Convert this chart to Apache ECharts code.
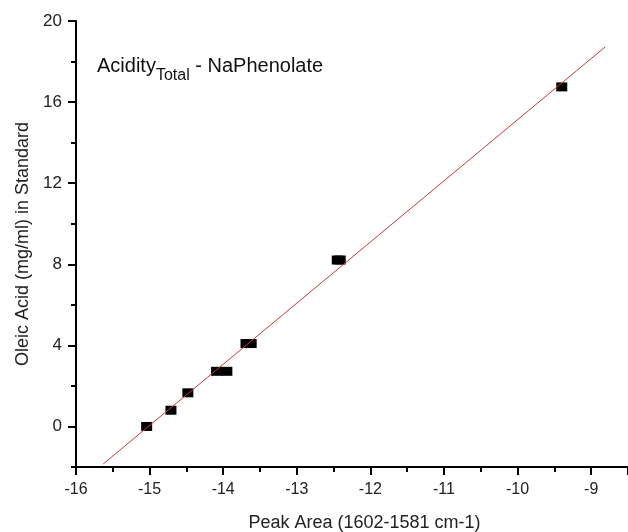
<!DOCTYPE html>
<html>
<head>
<meta charset="utf-8">
<script src="https://cdn.jsdelivr.net/npm/echarts@6/dist/echarts.min.js"></script>
<style>html,body{margin:0;padding:0;background:#fff;}#c{width:628px;height:532px;}</style>
</head>
<body>
<div id="c"></div>
<script>
// Measured standards: peak area (x) vs oleic acid concentration (y)
var peakArea = [-15.04, -14.71, -14.48, -14.09, -13.95, -13.69, -13.62, -12.45, -12.41, -9.40];
var oleicAcid = [0.0, 0.80, 1.66, 2.72, 2.72, 4.09, 4.09, 8.21, 8.21, 16.75];
// Linear fit line endpoints
var fitX = [-15.63, -8.81];
var fitY = [-1.85, 18.72];
// Axis settings
var xTicks = { min: -16, max: -8.5, interval: 1 };
var yRange = { min: -2, max: 20, minorInterval: 2 };
var yTickLabels = [0, 4, 8, 12, 16, 20];

var FONT = 'Liberation Sans, Arial, sans-serif';
var chart = echarts.init(document.getElementById('c'), null, { renderer: 'canvas' });

var pts = peakArea.map(function (x, i) { return [x, oleicAcid[i]]; });
var fit = fitX.map(function (x, i) { return [x, fitY[i]]; });

var lineStyleAxis = { color: '#000', width: 2 };
var labelStyle = { color: '#222', fontSize: 16, fontFamily: FONT };

chart.setOption({
  animation: false,
  backgroundColor: '#fff',
  grid: { left: 76, right: 0, top: 21, bottom: 65, containLabel: false, outerBoundsMode: 'none' },
  xAxis: {
    type: 'value',
    min: xTicks.min, max: xTicks.max, interval: xTicks.interval,
    axisLine: { show: true, onZero: false, lineStyle: lineStyleAxis },
    axisTick: { show: true, length: 8, lineStyle: lineStyleAxis },
    minorTick: { show: true, splitNumber: 2, length: 5, lineStyle: lineStyleAxis },
    splitLine: { show: false },
    name: 'Peak Area (1602-1581 cm-1)',
    nameLocation: 'middle', nameGap: 47,
    nameTextStyle: { color: '#222', fontSize: 18, fontFamily: FONT, padding: [0, 0, 0, 25] },
    axisLabel: Object.assign({}, labelStyle, {
      margin: 15,
      formatter: function (v) { return (v === xTicks.max) ? '' : String(v); }
    })
  },
  yAxis: [
    {
      type: 'value',
      min: yRange.min, max: yRange.max, interval: yRange.minorInterval,
      axisLine: { show: true, onZero: false, lineStyle: lineStyleAxis },
      axisTick: { show: true, length: 8, lineStyle: lineStyleAxis, customValues: yTickLabels },
      splitLine: { show: false },
      name: 'Oleic Acid (mg/ml) in Standard',
      nameLocation: 'middle', nameGap: 44, nameRotate: 90,
      nameTextStyle: { color: '#222', fontSize: 18, fontFamily: FONT },
      axisLabel: Object.assign({}, labelStyle, { fontSize: 17, margin: 14, customValues: yTickLabels })
    },
    {
      type: 'value',
      position: 'left',
      min: yRange.min, max: yRange.max, interval: yRange.minorInterval,
      axisLine: { show: false, onZero: false },
      axisTick: { show: true, length: 5, lineStyle: lineStyleAxis },
      axisLabel: { show: false },
      splitLine: { show: false }
    }
  ],
  graphic: [{
    type: 'text',
    left: 97, top: 56,
    style: {
      text: '{m|Acidity}{s|Total}{m| - NaPhenolate}',
      rich: {
        m: { fontSize: 20, fontFamily: FONT, fill: '#111', verticalAlign: 'bottom', lineHeight: 22 },
        s: { fontSize: 16, fontFamily: FONT, fill: '#111', verticalAlign: 'bottom', lineHeight: 22, padding: [0, 0, -8, 0] }
      }
    }
  }],
  series: [
    {
      type: 'line',
      data: fit,
      symbol: 'none',
      lineStyle: { color: '#c83a35', width: 1 },
      z: 3
    },
    {
      type: 'scatter',
      data: pts,
      symbol: 'rect',
      symbolSize: [11, 9],
      itemStyle: { color: '#000', opacity: 1 },
      z: 2
    }
  ]
});
</script>
</body>
</html>
